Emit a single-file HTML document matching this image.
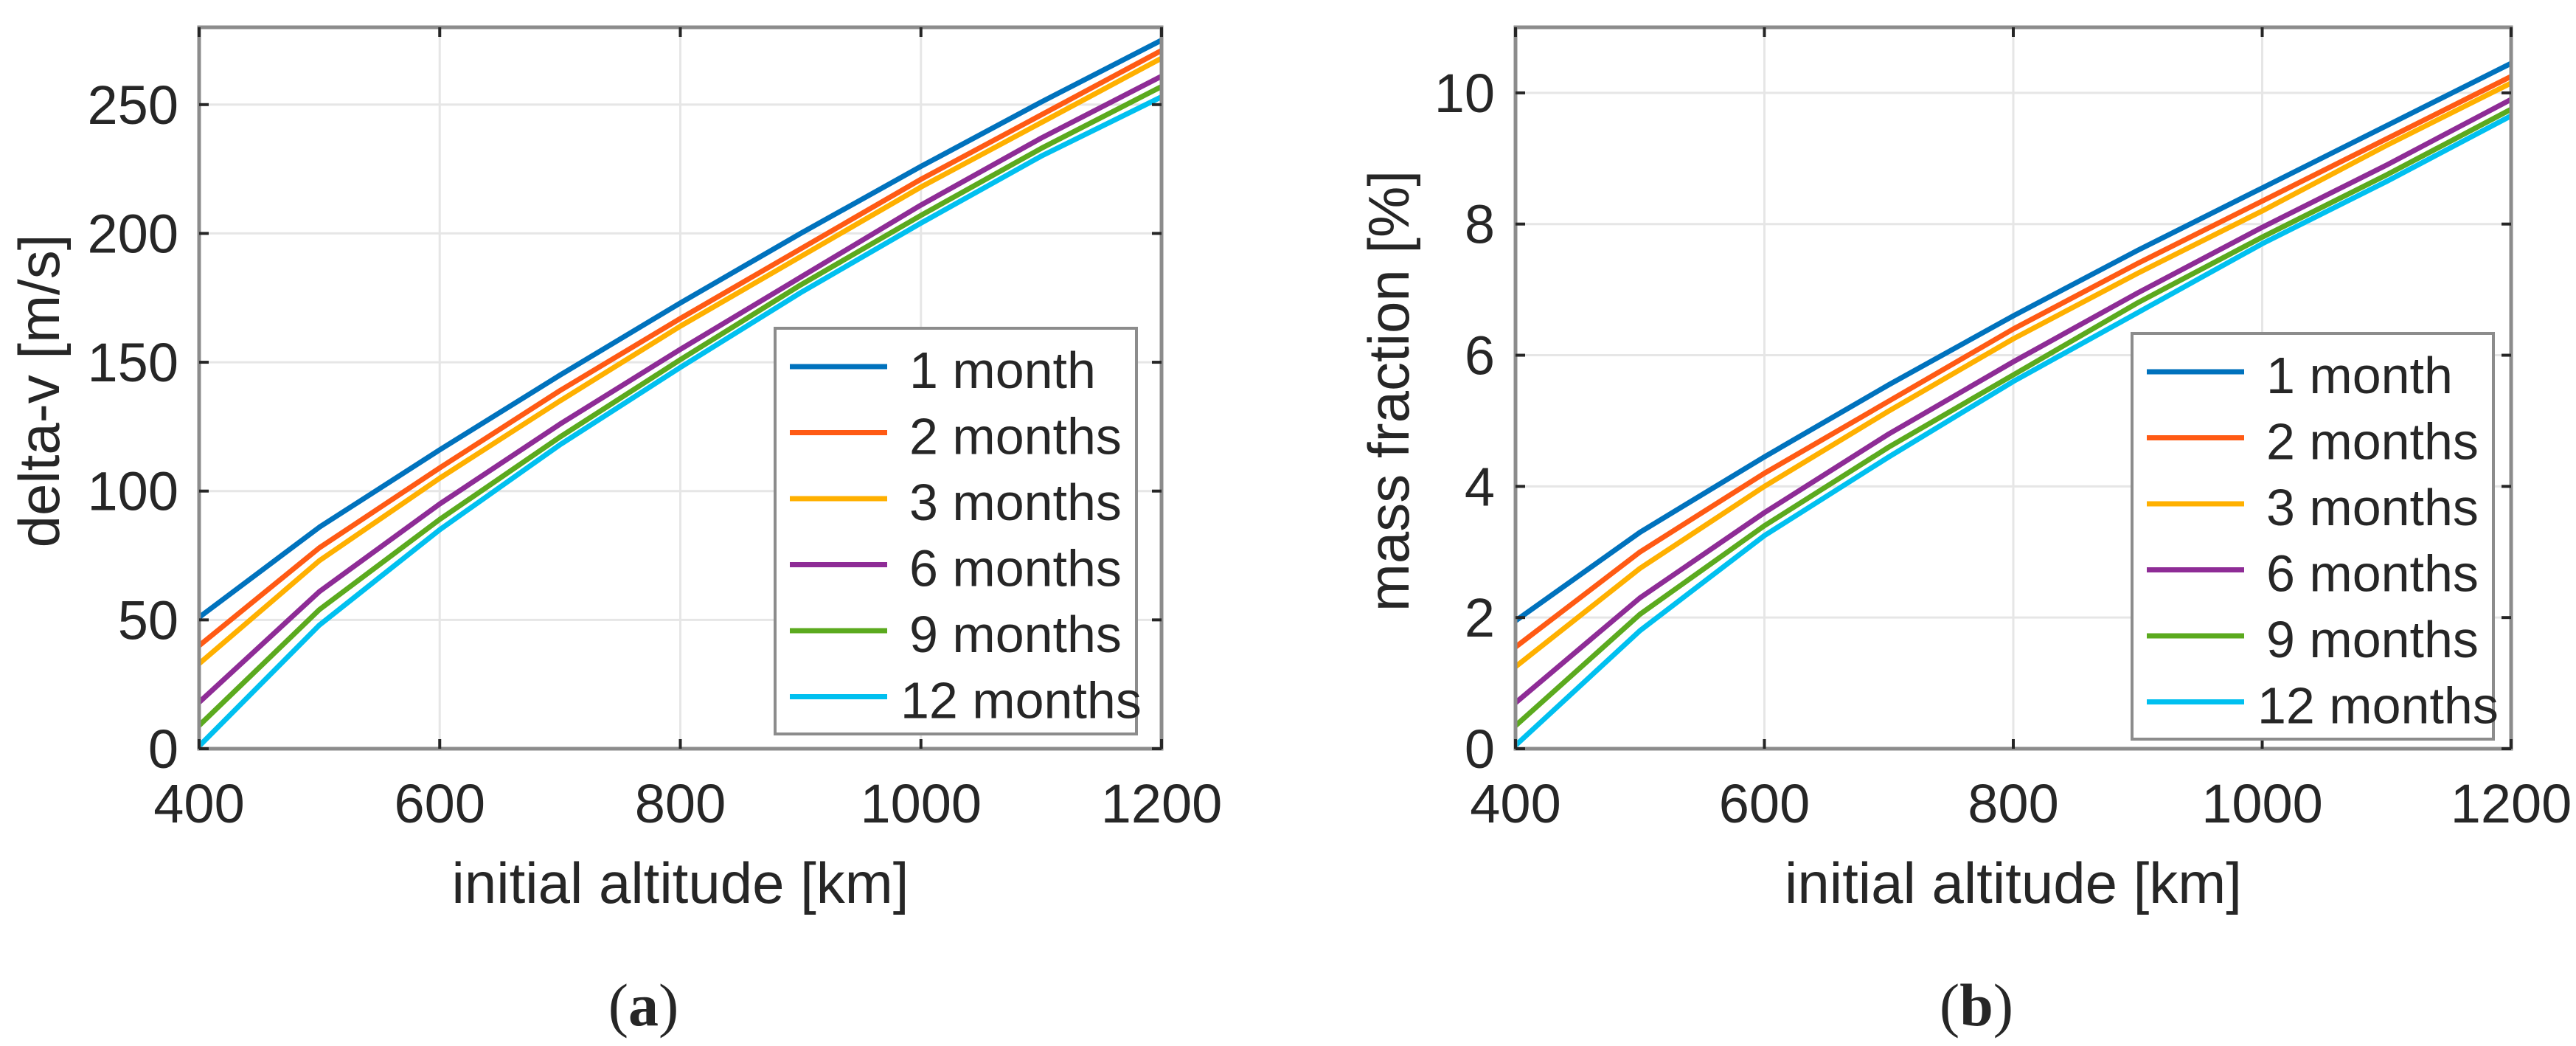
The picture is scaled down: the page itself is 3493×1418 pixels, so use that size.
<!DOCTYPE html>
<html><head><meta charset="utf-8"><style>
html,body{margin:0;padding:0;background:#fff;}
svg{display:block;}
text{font-family:"Liberation Sans",Arial,sans-serif;fill:#262626;}
</style></head><body>
<svg id="fig" width="3493" height="1418" viewBox="0 0 3493 1418" xmlns="http://www.w3.org/2000/svg"></svg>
<script>
const xVals=[400,500,600,700,800,900,1000,1100,1200];
const xTicks=[400,600,800,1000,1200];
const seriesNames=["1 month","2 months","3 months","6 months","9 months","12 months"];
const dvTicks=[0,50,100,150,200,250];
const mfTicks=[0,2,4,6,8,10];
const dv1=[51,86,116,145,173,200,226,251,275];
const dv2=[40,78,109,139,167,194,221,246,271];
const dv3=[33,73,105,135,164,191,218,243,268];
const dv6=[18,61,95,126,155,183,211,237,261];
const dv9=[9,54,89,121,151,180,207,233,257];
const dv12=[1,48,85,118,148,177,204,230,253];
const mf1=[1.95,3.3,4.45,5.55,6.6,7.6,8.55,9.5,10.45];
const mf2=[1.55,3.0,4.2,5.3,6.4,7.4,8.35,9.3,10.25];
const mf3=[1.25,2.75,4.0,5.15,6.25,7.25,8.2,9.2,10.15];
const mf6=[0.7,2.3,3.6,4.8,5.9,6.95,7.95,8.9,9.9];
const mf9=[0.35,2.05,3.4,4.6,5.7,6.8,7.8,8.75,9.75];
const mf12=[0.05,1.8,3.25,4.45,5.6,6.65,7.7,8.65,9.65];
const colors=["#0072BD","#FF5A14","#FFB000","#8E2C96","#5BAA1E","#00C0F0"];
const NS="http://www.w3.org/2000/svg";
const svg=document.getElementById('fig');
function mk(tag,attrs,parent){const e=document.createElementNS(NS,tag);for(const k in attrs)e.setAttribute(k,attrs[k]);(parent||svg).appendChild(e);return e;}
function panel(cfg){
  const g=mk('g',{});
  
  
  const L=cfg.L,R=cfg.R,T=37,B=1015;
  const sx=v=>L+(v-400)/800*(R-L);
  const sy=v=>B-v/cfg.ymax*(B-T);
  xTicks.forEach(t=>{const l=mk('line',{x1:sx(t),x2:sx(t),y1:T,y2:B,stroke:'#e6e6e6','stroke-width':3},g);
    });
  cfg.yTicks.forEach(t=>{const l=mk('line',{x1:L,x2:R,y1:sy(t),y2:sy(t),stroke:'#e6e6e6','stroke-width':3},g);
    });
  cfg.series.forEach((s,i)=>{
    const p=mk('polyline',{points:s.map((v,j)=>sx(xVals[j])+','+sy(v)).join(' '),fill:'none',stroke:colors[i],'stroke-width':7,'stroke-linejoin':'round'},g);
    
  });
  const ax=mk('rect',{x:L,y:T,width:R-L,height:B-T,fill:'none',stroke:'#8c8c8c','stroke-width':5},g);
  
  xTicks.forEach(t=>{
    mk('line',{x1:sx(t),x2:sx(t),y1:B,y2:B-13,stroke:'#262626','stroke-width':4},g);
    mk('line',{x1:sx(t),x2:sx(t),y1:T,y2:T+13,stroke:'#262626','stroke-width':4},g);
    const tx=mk('text',{x:sx(t),y:1115,'font-size':74,'text-anchor':'middle'},g);tx.textContent=t;
    
  });
  cfg.yTicks.forEach(t=>{
    mk('line',{x1:L,x2:L+13,y1:sy(t),y2:sy(t),stroke:'#262626','stroke-width':4},g);
    mk('line',{x1:R,x2:R-13,y1:sy(t),y2:sy(t),stroke:'#262626','stroke-width':4},g);
    const tx=mk('text',{x:L-28,y:sy(t)+26,'font-size':74,'text-anchor':'end'},g);tx.textContent=t;
    
  });
  const xt=mk('text',{x:(L+R)/2,y:1224,'font-size':78,'text-anchor':'middle'},g);xt.textContent='initial altitude [km]';
  
  const yt=mk('text',{x:0,y:0,'font-size':78,'text-anchor':'middle',transform:`translate(${cfg.ytX},530) rotate(-90)`},g);yt.textContent=cfg.ytitle;
  
  const lg=mk('g',{},g);
  
  mk('rect',{x:cfg.lgX,y:cfg.lgY,width:490,height:550,fill:'#fff',stroke:'#8c8c8c','stroke-width':4},lg);
  seriesNames.forEach((n,i)=>{
    const y=cfg.lgY+52+i*89.5;
    const e=mk('g',{},lg);
    
    mk('line',{x1:cfg.lgX+20,x2:cfg.lgX+152,y1:y,y2:y,stroke:colors[i],'stroke-width':7},e);
    const t=mk('text',{x:cfg.lgX+(i==5?170:182),y:y+29,'font-size':70},e);t.textContent=n;
  });
  const cap=mk('text',{x:(L+R)/2-50,y:1390,'font-size':82,'text-anchor':'middle','font-family':'"Liberation Serif",serif'},g);
  
  cap.style.fontFamily='"Liberation Serif",serif';
  cap.innerHTML='(<tspan font-weight="bold">'+cfg.letter+'</tspan>)';
}
panel({name:'delta-v-chart',L:270,R:1575,ymax:280,yTicks:dvTicks,series:[dv1,dv2,dv3,dv6,dv9,dv12],ytitle:'delta-v [m/s]',ytX:80,lgX:1051,lgY:445,letter:'a'});
panel({name:'mass-fraction-chart',L:2055,R:3405,ymax:11,yTicks:mfTicks,series:[mf1,mf2,mf3,mf6,mf9,mf12],ytitle:'mass fraction [%]',ytX:1910,lgX:2891,lgY:452,letter:'b'});
</script>
</body></html>
